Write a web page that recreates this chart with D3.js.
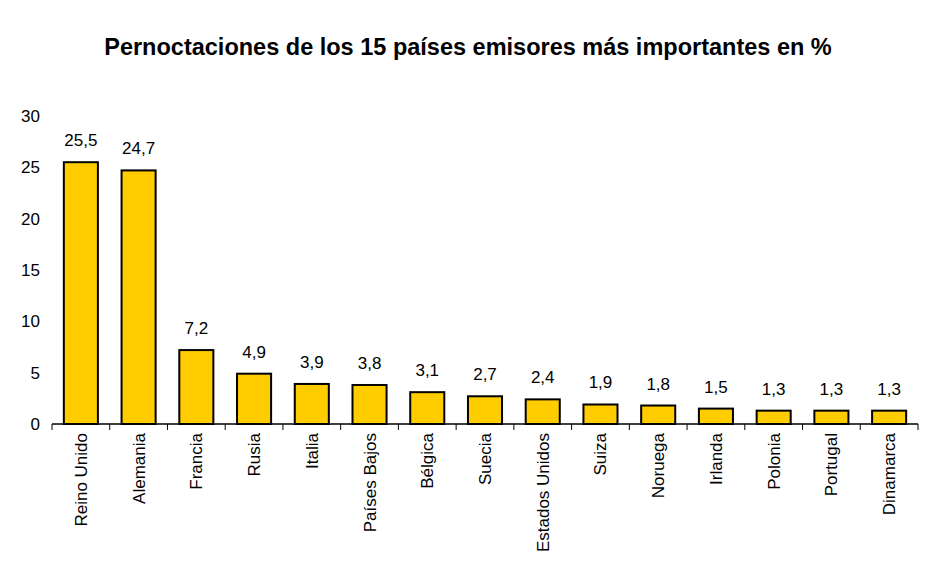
<!DOCTYPE html>
<html><head><meta charset="utf-8">
<script src="https://cdn.jsdelivr.net/npm/d3@7"></script>
<style>body{margin:0;background:#fff;} svg{display:block;font-family:"Liberation Sans",Arial,sans-serif;}</style>
</head><body>
<svg id="c" width="944" height="575"></svg>
<script>
const categories = ["Reino Unido","Alemania","Francia","Rusia","Italia","Países Bajos","Bélgica","Suecia","Estados Unidos","Suiza","Noruega","Irlanda","Polonia","Portugal","Dinamarca"];
const values = [25.5,24.7,7.2,4.9,3.9,3.8,3.1,2.7,2.4,1.9,1.8,1.5,1.3,1.3,1.3];
const yTicks = [0,5,10,15,20,25,30];
const title = "Pernoctaciones de los 15 países emisores más importantes en %";

const svg = d3.select("#c");
const x = d3.scaleBand().domain(categories).range([52,918]).paddingInner(0.41).paddingOuter(0.205);
const y = d3.scaleLinear().domain([0,30]).range([424,116]);
const fmt = v => d3.format(".1f")(v).replace(".", ",");

svg.append("text").attr("x",468).attr("y",55).attr("text-anchor","middle")
  .attr("font-size",23.5).attr("font-weight","bold").text(title);

// y labels
svg.append("g").selectAll("text").data(yTicks).join("text")
  .attr("x",40).attr("y",d=>y(d)).attr("dy","0.35em").attr("text-anchor","end")
  .attr("font-size",17).text(d=>d);

// bars
svg.append("g").selectAll("rect").data(values).join("rect")
  .attr("x",(d,i)=>x(categories[i])).attr("width",x.bandwidth())
  .attr("y",d=>y(d)).attr("height",d=>y(0)-y(d))
  .attr("fill","#FFCC00").attr("stroke","#000").attr("stroke-width",2);

// value labels
svg.append("g").selectAll("text").data(values).join("text")
  .attr("x",(d,i)=>x(categories[i])+x.bandwidth()/2).attr("y",d=>y(d)-16)
  .attr("text-anchor","middle").attr("font-size",17).text(d=>fmt(d));

// x axis line and ticks
const ax = svg.append("g");
ax.append("line").attr("x1",52).attr("x2",918).attr("y1",424).attr("y2",424).attr("stroke","#000").attr("stroke-width",1.5);
const bounds = d3.range(categories.length+1).map(i=>52 + i*(866/categories.length));
ax.selectAll("line.t").data(bounds).join("line").attr("class","t")
  .attr("x1",d=>d).attr("x2",d=>d).attr("y1",424).attr("y2",430).attr("stroke","#000").attr("stroke-width",1);

// category labels
svg.append("g").selectAll("text").data(categories).join("text")
  .attr("transform",d=>`translate(${x(d)+x.bandwidth()/2+6},433) rotate(-90)`)
  .attr("text-anchor","end").attr("font-size",17).text(d=>d);
</script>
</body></html>
